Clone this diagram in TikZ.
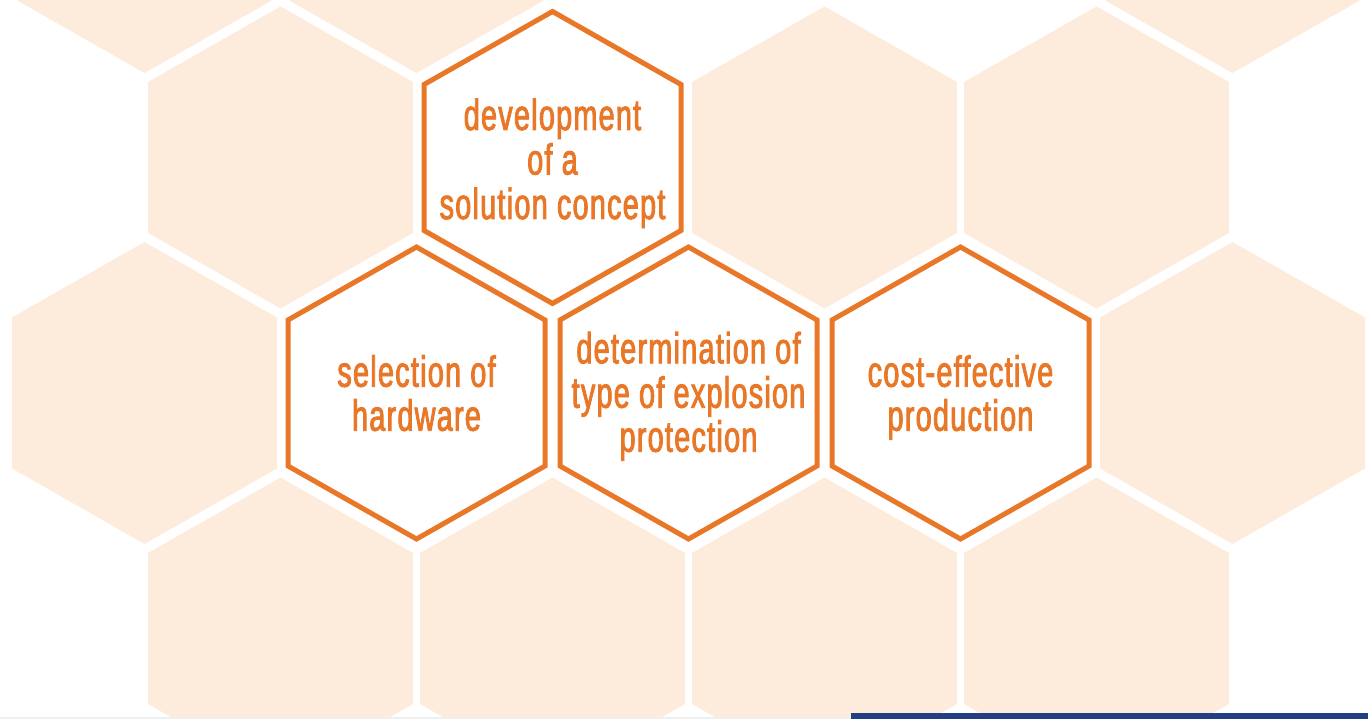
\documentclass[tikz,border=0pt]{standalone}
\usepackage{fontspec}
\newfontfamily\hexfont[FakeStretch=0.66,FakeBold=2,LetterSpace=3]{Liberation Sans}
\definecolor{peach}{HTML}{FDECDC}
\definecolor{hexorange}{HTML}{E97728}
\definecolor{barblue}{HTML}{243E84}
\definecolor{rulegray}{HTML}{EFEFF2}
\begin{document}
\begin{tikzpicture}[x=1pt,y=-1pt,
  peachhex/.style={fill=peach},
  keyhex/.style={draw=hexorange, line width=5pt, fill=white, line join=miter},
  lbl/.style={text=hexorange, font=\hexfont\fontsize{43.5}{44.5}\selectfont, inner sep=0pt, anchor=base}]
\useasboundingbox (0,0) rectangle (1368,719);
\begin{scope}
\clip (0,0) rectangle (1368,719);
% background honeycomb
\foreach \cx/\cy in {144.5/-78, 416.5/-78, 1232.5/-78,
                     280.5/157.5, 824.5/157.5, 1096.5/157.5,
                     144.5/393, 1232.5/393,
                     280.5/628.5, 552.5/628.5, 824.5/628.5, 1096.5/628.5,
                     960.5/864, 1232.5/864}
  \fill[peachhex] (\cx,\cy) ++(0,-151) -- ++(132.5,75.5) -- ++(0,151) -- ++(-132.5,75.5) -- ++(-132.5,-75.5) -- ++(0,-151) -- cycle;
% highlighted hexagons
\coordinate (hdev) at (552.5,157.5);
\coordinate (hsel) at (416.5,393);
\coordinate (hdet) at (688.5,393);
\coordinate (hcost) at (960.5,393);
\foreach \h in {hdev,hsel,hdet,hcost}
  \draw[keyhex] (\h) ++(0,-146) -- ++(128.5,73) -- ++(0,146) -- ++(-128.5,73) -- ++(-128.5,-73) -- ++(0,-146) -- cycle;
% bottom strips
\fill[rulegray] (0,717) rectangle (851,719);
\fill[barblue] (851,712.5) rectangle (1368,719);
\end{scope}
% labels
\node[lbl] (dev1) at (552.5,130) {development};
\node[lbl] (dev2) at (552.5,174.5) {of a};
\node[lbl] (dev3) at (552.5,219) {solution concept};
\node[lbl] (sel1) at (416.5,386.7) {selection of};
\node[lbl] (sel2) at (416.5,430.7) {hardware};
\node[lbl] (det1) at (688.5,363.3) {determination of};
\node[lbl] (det2) at (688.5,407.7) {type of explosion};
\node[lbl] (det3) at (688.5,451.7) {protection};
\node[lbl] (cost1) at (960.5,386.7) {cost-effective};
\node[lbl] (cost2) at (960.5,430.7) {production};
\end{tikzpicture}
\end{document}
